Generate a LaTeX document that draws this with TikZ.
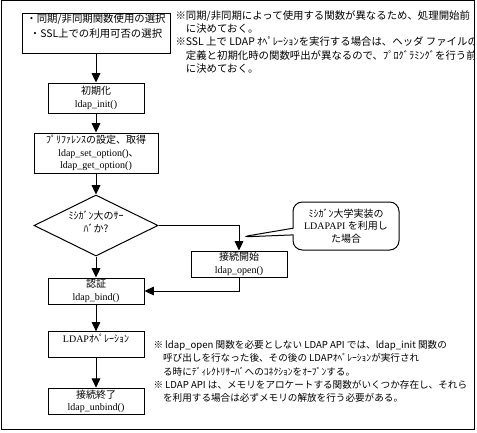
\documentclass[tikz,border=0pt]{standalone}
\usepackage{fontspec}
\setmainfont{Liberation Serif}
\newfontfamily\jp{Noto Sans CJK JP}
\usepackage{tikz}
\usetikzlibrary{shapes.geometric, shapes.callouts, arrows.meta}

\begin{document}
\begin{tikzpicture}[
    x=0.75pt, y=-0.75pt, line width=0.75pt,
    every node/.style={font=\fontsize{7.5}{9.5}\selectfont},
    procbox/.style={rectangle, draw, inner xsep=1pt, inner ysep=0.5pt, align=center},
    decision/.style={diamond, draw, inner sep=0pt, minimum width=93pt, minimum height=45.75pt},
    memo/.style={rectangle callout, draw, rounded corners=7pt, callout pointer width=5pt, minimum width=79.5pt, minimum height=36pt, align=center, inner sep=1pt},
    note/.style={anchor=north west, align=left, inner sep=0pt, font=\jp\fontsize{7.8}{10}\selectfont},
    flow/.style={-{Triangle[width=6.5pt,length=7pt]}}
  ]
  \useasboundingbox (0,0) rectangle (477,432);
  % Frame
  \draw (1,0.5) rectangle (474,429);

  % Main flow
  \node[procbox, minimum width=111pt, minimum height=30pt, font=\jp\fontsize{7.8}{11}\selectfont] (sel) at (96,33) {・同期/非同期関数使用の選択\\・SSL上での利用可否の選択\\\mbox{}};
  \node[procbox, minimum width=72pt, minimum height=22.5pt] (init) at (96,98) {{\jp 初期化}\\ldap\_init()};
  \node[procbox, minimum width=93pt, minimum height=30pt] (pref) at (96,153) {{\jp ﾌﾟﾘﾌｧﾚﾝｽの設定、取得}\\ldap\_set\_option(){\jp ､}\\ldap\_get\_option()};
  \node[decision] (dia) at (96,225.5) {};
  \node[font=\jp\fontsize{7.5}{9.5}\selectfont, align=center, inner sep=0pt] (diatext) at (96,222) {ﾐｼｶﾞﾝ大のｻｰ\\ﾊﾞか?};
  \node[procbox, minimum width=72pt, minimum height=19.5pt] (bind) at (96,291) {{\jp 認証}\\ldap\_bind()};
  \node[procbox, minimum width=72pt, minimum height=19pt] (ops) at (96,344.5) {LDAP{\jp ｵﾍﾟﾚｰｼｮﾝ}\\\mbox{}};
  \node[procbox, minimum width=72pt, minimum height=20pt] (unbind) at (96,401.5) {{\jp 接続終了}\\ldap\_unbind()};

  % Branch
  \node[procbox, minimum width=72pt, minimum height=19.5pt] (open) at (239,264) {{\jp 接続開始}\\ldap\_open()};
  \coordinate (ptip) at (241,237);
  \node[memo, callout absolute pointer={(ptip)}] (memo) at (346,226) {{\jp ﾐｼｶﾞﾝ大学実装の}\\LDAPAPI {\jp を利用し}\\{\jp た場合}};

  % Arrows
  \draw[flow] (sel) -- (init);
  \draw[flow] (init) -- (pref);
  \draw[flow] (pref) -- (dia);
  \draw[flow] (dia) -- (bind);
  \draw[flow] (dia.east) -| (open.north);
  \draw[flow] (open.south) |- (bind.east);
  \draw[flow] (bind) -- (ops);
  \draw[flow] (ops) -- (unbind);

  % Notes
  \begin{scope}
    \clip (1,0) rectangle (474,429);
    \node[note] (topnote) at (175,10) {※同期/非同期によって使用する関数が異なるため、処理開始前\\　に決めておく。\\※SSL 上で LDAP ｵﾍﾟﾚｰｼｮﾝを実行する場合は、ヘッダ ファイルの\\　定義と初期化時の関数呼出が異なるので、ﾌﾟﾛｸﾞﾗﾐﾝｸﾞを行う前\\　に決めておく。};
    \node[note, font=\jp\fontsize{7.2}{10}\selectfont] (botnote) at (153,340) {※ ldap\_open 関数を必要としない LDAP API では、ldap\_init 関数の\\　呼び出しを行なった後、その後の LDAPｵﾍﾟﾚｰｼｮﾝが実行され\\　る時にﾃﾞｨﾚｸﾄﾘｻｰﾊﾞへのｺﾈｸｼｮﾝをｵｰﾌﾟﾝする。\\※ LDAP API は、メモリをアロケートする関数がいくつか存在し、それら\\　を利用する場合は必ずメモリの解放を行う必要がある。};
  \end{scope}
\end{tikzpicture}
\end{document}
